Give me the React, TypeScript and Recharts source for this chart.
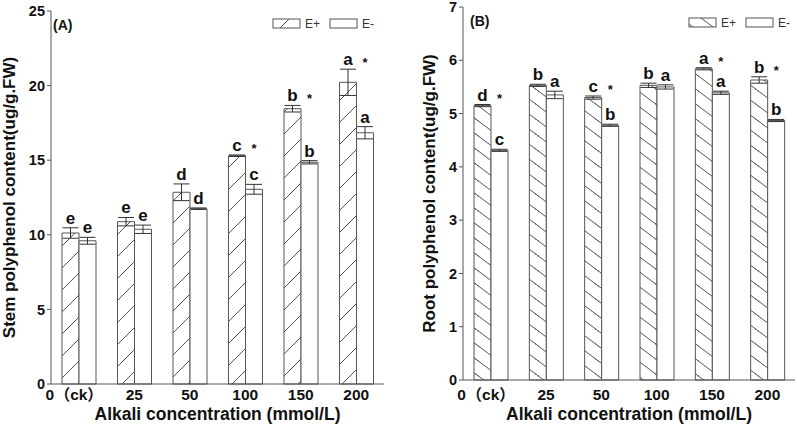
import React from "react";
import { BarChart, Bar, XAxis, YAxis, ErrorBar, LabelList, Legend } from "recharts";

// ---------- data ----------
const categories = ["0", "25", "50", "100", "150", "200"];
const tickLabels = ["（ck）", "25", "50", "100", "150", "200"];

const stemEPlus = [10.12, 10.88, 12.85, 15.3, 18.45, 20.22];
const stemEPlusErr = [0.35, 0.28, 0.56, 0.05, 0.22, 0.88];
const stemEMinus = [9.6, 10.37, 11.75, 13.05, 14.86, 16.84];
const stemEMinusErr = [0.23, 0.28, 0.05, 0.33, 0.11, 0.41];
const stemEPlusLetters = ["e", "e", "d", "c", "b", "a"];
const stemEMinusLetters = ["e", "e", "d", "c", "b", "a"];
const stemStars = [false, false, false, true, true, true];
const stemTicks = [0, 5, 10, 15, 20, 25];

const rootEPlus = [5.15, 5.53, 5.3, 5.53, 5.84, 5.63];
const rootEPlusErr = [0.02, 0.02, 0.03, 0.04, 0.02, 0.06];
const rootEMinus = [4.31, 5.35, 4.78, 5.5, 5.39, 4.87];
const rootEMinusErr = [0.02, 0.07, 0.02, 0.04, 0.03, 0.02];
const rootEPlusLetters = ["d", "b", "c", "b", "a", "b"];
const rootEMinusLetters = ["c", "a", "b", "a", "a", "b"];
const rootStars = [true, false, true, false, true, true];
const rootTicks = [0, 1, 2, 3, 4, 5, 6, 7];

const FONT = "'Liberation Sans', Arial, 'Noto Sans CJK SC', sans-serif";
const LINE = "#555";

const buildRows = (ep: number[], epErr: number[], em: number[], emErr: number[]) =>
  categories.map((c, i) => ({ cat: c, ep: ep[i], epErr: epErr[i], em: em[i], emErr: emErr[i] }));

type PanelProps = {
  id: string;
  tag: string;
  yLabel: string;
  ep: number[];
  epErr: number[];
  em: number[];
  emErr: number[];
  epLetters: string[];
  emLetters: string[];
  stars: boolean[];
  ticks: number[];
  yWidth: number;
  margin: { top: number; right: number; bottom: number; left: number };
  xHeight: number;
  yLabelX: number;
  tagX: number;
  tagY: number;
  legendX: number;
  legendY: number;
  hatch: "fwd" | "back";
};

const HatchDef = ({ id, kind }: { id: string; kind: "fwd" | "back" }) =>
  kind === "fwd" ? (
    <pattern id={id} patternUnits="userSpaceOnUse" width={22} height={22}>
      <rect width={22} height={22} fill="#fff" />
      <path d="M0,22 L22,0 M-2,2 L2,-2 M20,24 L24,20" stroke={LINE} strokeWidth={1} />
    </pattern>
  ) : (
    <pattern id={id} patternUnits="userSpaceOnUse" width={20} height={15}>
      <rect width={20} height={15} fill="#fff" />
      <path d="M0,0 L20,15 M-2,-1.5 L2,1.5 M18,13.5 L22,16.5" stroke={LINE} strokeWidth={1} />
    </pattern>
  );

function Panel(p: PanelProps) {
  const rows = buildRows(p.ep, p.epErr, p.em, p.emErr);
  const hatchId = `hatch-${p.id}`;
  const plotBottom = 425 - p.xHeight;
  const tickDy = 400 - plotBottom;

  const letterContent = (letters: string[], errs: number[], vals: number[], stars: boolean[] | null) =>
    (props: any) => {
      const vb = props.viewBox || props;
      const x = Number(vb.x);
      const y = Number(vb.y);
      const w = Number(vb.width);
      const h = Number(vb.height);
      const idx = props.index;
      if (idx == null || isNaN(x)) return null;
      const top = Math.min(y, y + h);
      const hh = Math.abs(h);
      const pxPerUnit = hh / vals[idx];
      const errTop = top - errs[idx] * pxPerUnit;
      const base = errTop - 4;
      return (
        <g>
          <text x={x + w / 2} y={base} textAnchor="middle" fontSize={17} fontWeight={700} fill="#111" fontFamily={FONT}>
            {letters[idx]}
          </text>
          {stars && stars[idx] ? (
            <text x={x + w * 1.5} y={base + 2} textAnchor="middle" fontSize={13} fontWeight={700} fill="#111" fontFamily={FONT}>
              *
            </text>
          ) : null}
        </g>
      );
    };

  const XTick = (props: any) => {
    const { x, y, index } = props;
    return (
      <g>
        {index === 0 ? (
          <text x={x - 29} y={y + tickDy} textAnchor="middle" fontSize={15.5} fontWeight={700} fill="#111" fontFamily={FONT}>
            0
          </text>
        ) : null}
        <text x={x} y={y + tickDy} textAnchor="middle" fontSize={15.5} fontWeight={700} fill="#111" fontFamily={FONT}>
          {tickLabels[index]}
        </text>
      </g>
    );
  };

  const YLabel = (props: any) => {
    const vb = props.viewBox || { y: 0, height: 0 };
    const cy = vb.y + vb.height / 2;
    const cx = p.yLabelX;
    return (
      <text
        x={cx}
        y={cy}
        transform={`rotate(-90, ${cx}, ${cy})`}
        textAnchor="middle"
        dominantBaseline="central"
        fontSize={17}
        fontWeight={700}
        fill="#111"
        fontFamily={FONT}
      >
        {p.yLabel}
      </text>
    );
  };

  const XLabel = (props: any) => {
    const vb = props.viewBox || { x: 0, width: 0 };
    return (
      <text x={vb.x + vb.width / 2} y={420} textAnchor="middle" fontSize={17.5} fontWeight={700} fill="#111" fontFamily={FONT}>
        Alkali concentration (mmol/L)
      </text>
    );
  };

  const LegendOverlay = () => {
    const lx = p.legendX;
    const ly = p.legendY;
    const lgId = `lg-${p.id}`;
    return (
      <svg width={400} height={425} style={{ position: "absolute", left: 0, top: 0, pointerEvents: "none" }}>
        <defs>
          <HatchDef id={lgId} kind={p.hatch} />
        </defs>
        <text x={p.tagX} y={p.tagY} fontSize={14} fontWeight={700} fill="#111" fontFamily={FONT}>
          {p.tag}
        </text>
        <rect x={lx} y={ly} width={27} height={9} fill={`url(#${lgId})`} stroke={LINE} strokeWidth={1} />
        <text x={lx + 32} y={ly + 9} fontSize={12} fill="#333" fontFamily={FONT}>
          E+
        </text>
        <rect x={lx + 57} y={ly} width={27} height={9} fill="#fff" stroke={LINE} strokeWidth={1} />
        <text x={lx + 89} y={ly + 9} fontSize={12} fill="#333" fontFamily={FONT}>
          E-
        </text>
      </svg>
    );
  };

  return (
    <BarChart width={400} height={425} data={rows} margin={p.margin} barGap={0} barSize={17}>
      <defs>
        <HatchDef id={hatchId} kind={p.hatch} />
      </defs>
      <XAxis
        dataKey="cat"
        height={p.xHeight}
        axisLine={{ stroke: LINE }}
        tickLine={false}
        tickSize={0}
        tickMargin={0}
        interval={0}
        tick={(t: any) => <XTick {...t} />}
        label={{ content: (l: any) => <XLabel {...l} /> }}
      />
      <XAxis xAxisId="top" dataKey="cat" orientation="top" height={0} tick={false} tickLine={false} axisLine={{ stroke: LINE }} />
      <YAxis
        width={p.yWidth}
        domain={[p.ticks[0], p.ticks[p.ticks.length - 1]]}
        ticks={p.ticks}
        interval={0}
        axisLine={{ stroke: LINE }}
        tickLine={{ stroke: LINE }}
        tickSize={4}
        tickMargin={2}
        tick={{ fontSize: 14.5, fontWeight: 700, fill: "#111", fontFamily: FONT }}
        label={{ content: (l: any) => <YLabel {...l} /> }}
      />
      <YAxis yAxisId="right" orientation="right" width={0} tick={false} tickLine={false} axisLine={{ stroke: LINE }} />
      <Legend
        layout="horizontal"
        verticalAlign="middle"
        align="center"
        wrapperStyle={{ position: "absolute", left: 0, top: 0, width: 400, height: 425 }}
        content={() => <LegendOverlay />}
      />
      <Bar dataKey="ep" name="E+" fill={`url(#${hatchId})`} stroke={LINE} strokeWidth={1} isAnimationActive={false}>
        <ErrorBar dataKey="epErr" width={8} stroke="#333" strokeWidth={1} direction="y" />
        <LabelList dataKey="ep" content={letterContent(p.epLetters, p.epErr, p.ep, p.stars)} />
      </Bar>
      <Bar dataKey="em" name="E-" fill="#fff" stroke={LINE} strokeWidth={1} isAnimationActive={false}>
        <ErrorBar dataKey="emErr" width={8} stroke="#333" strokeWidth={1} direction="y" />
        <LabelList dataKey="em" content={letterContent(p.emLetters, p.emErr, p.em, null)} />
      </Bar>
    </BarChart>
  );
}

export default function App() {
  return (
    <div style={{ position: "absolute", left: 0, top: 0, width: 797, height: 425, background: "#fff", fontFamily: FONT }}>
      <div style={{ position: "absolute", left: 0, top: 0 }}>
        <Panel
          id="a"
          tag="(A)"
          yLabel="Stem polyphenol content(ug/g.FW)"
          ep={stemEPlus}
          epErr={stemEPlusErr}
          em={stemEMinus}
          emErr={stemEMinusErr}
          epLetters={stemEPlusLetters}
          emLetters={stemEMinusLetters}
          stars={stemStars}
          ticks={stemTicks}
          yWidth={51}
          margin={{ top: 11, right: 16, bottom: 0, left: 0 }}
          xHeight={41}
          yLabelX={9}
          tagX={53}
          tagY={30}
          legendX={273}
          legendY={19}
          hatch="fwd"
        />
      </div>
      <div style={{ position: "absolute", left: 397, top: 0 }}>
        <Panel
          id="b"
          tag="(B)"
          yLabel="Root polyphenol content(ug/g.FW)"
          ep={rootEPlus}
          epErr={rootEPlusErr}
          em={rootEMinus}
          emErr={rootEMinusErr}
          epLetters={rootEPlusLetters}
          emLetters={rootEMinusLetters}
          stars={rootStars}
          ticks={rootTicks}
          yWidth={66}
          margin={{ top: 7, right: 2, bottom: 0, left: 0 }}
          xHeight={45}
          yLabelX={32}
          tagX={73}
          tagY={26}
          legendX={292}
          legendY={18}
          hatch="back"
        />
      </div>
    </div>
  );
}
